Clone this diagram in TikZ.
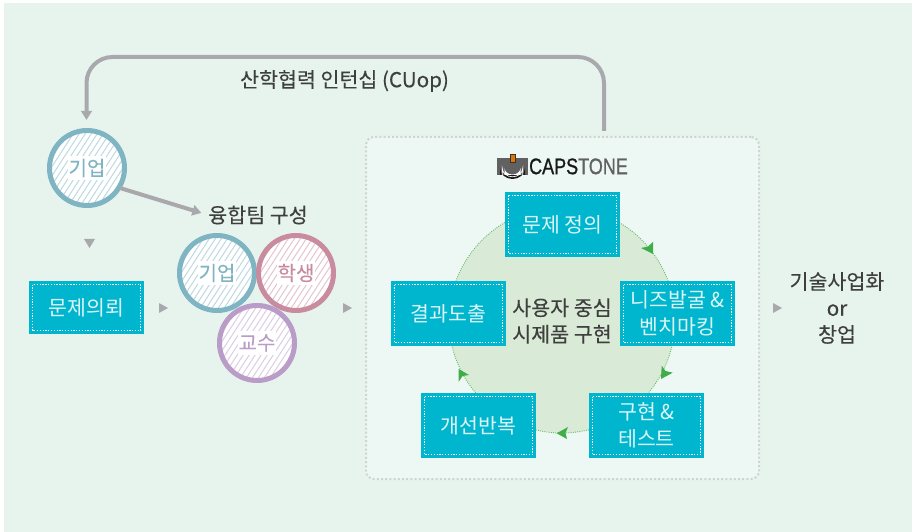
\documentclass[tikz,border=0pt]{standalone}
\usepackage{fontspec}
\setmainfont{Noto Sans CJK KR}
\newfontfamily\headfont{Noto Sans CJK KR}[FakeBold=0.2]
\newfontfamily\logofont{Liberation Sans}[FakeBold=1]
\usetikzlibrary{arrows.meta}
\definecolor{bgmint}{HTML}{E7F4ED}
\definecolor{panelfill}{HTML}{EDF7F4}
\definecolor{paneldot}{HTML}{D0D3D2}
\definecolor{boxcyan}{HTML}{00B6CF}
\definecolor{boxtext}{HTML}{DDF6F8}
\definecolor{linegray}{HTML}{A9A9AD}
\definecolor{inktext}{HTML}{3F3F3F}
\definecolor{ringteal}{HTML}{7FB5C2}
\definecolor{ringpink}{HTML}{C98BA0}
\definecolor{ringpurple}{HTML}{B99CC8}
\definecolor{discfill}{HTML}{D9EAD7}
\definecolor{discdot}{HTML}{62BC62}
\definecolor{headgreen}{HTML}{3FAE49}
\tikzset{
  stagebox/.style={rectangle,fill=boxcyan,text=boxtext,minimum width=115pt,minimum height=#1,
    inner sep=0pt,align=center,font=\fontsize{20.5pt}{27pt}\selectfont,
    path picture={\draw[white,line width=1.3pt,dash pattern=on 1.3pt off 1.5pt]
      ([shift={(3.5,3.5)}]path picture bounding box.north west) rectangle
      ([shift={(-3.5,-3.5)}]path picture bounding box.south east);}},
  ring/.style={circle,draw=#1,line width=5pt,fill=white,minimum size=75pt,inner sep=0pt,text=#1,
    font=\headfont\fontsize{20pt}{22pt}\selectfont,
    path picture={
      \foreach \d in {-72,-66,...,72}
        \draw[#1!50!white,line width=1pt]
          ([shift={(\d-26,40)}]path picture bounding box.center) --
          ([shift={(\d+26,-40)}]path picture bounding box.center);
      \fill[white] ([shift={(-19,-12)}]path picture bounding box.center) rectangle
          ([shift={(19,12)}]path picture bounding box.center);}},
  heading/.style={text=inktext,align=center,inner sep=0pt,font=\headfont\fontsize{20.6pt}{26.5pt}\selectfont},
  flowline/.style={linegray,line width=4pt,-{Triangle[length=9pt,width=10.5pt]}},
  marker/.style={fill=linegray},
  headmark/.style={fill=headgreen},
}
\begin{document}
\begin{tikzpicture}[x=1pt,y=-1pt]
\useasboundingbox (0,0) rectangle (914,532);
\fill[white] (0,0) rectangle (914,532);
\fill[bgmint] (4,3) rectangle (912,532);

% process panel and cycle disc
\node[draw=paneldot,fill=panelfill,line width=2pt,dash pattern=on 2pt off 2.2pt,rounded corners=8pt,
  minimum width=393pt,minimum height=342pt,inner sep=0pt] (panel) at (562.5,308) {};
\node[circle,fill=discfill,draw=discdot,line width=.9pt,dash pattern=on .9pt off 1.3pt,
  minimum size=226pt,inner sep=0pt] (disc) at (562,320) {};

% logo
\fill[black!62] (497,158) rectangle (528,175);
\fill[black!90] (500,175) -- (500,168) arc[start angle=180,end angle=0,x radius=12.5,y radius=11] -- (525,175) -- cycle;
\fill[white!70!panelfill] (504.5,175) -- (504.5,168) arc[start angle=180,end angle=0,x radius=8,y radius=6.5] -- (520.5,175) -- cycle;
\draw[white,line width=.7pt] (502.2,175) -- (502.2,168) arc[start angle=180,end angle=0,x radius=10.3,y radius=8.8] -- (522.8,175);
\fill[orange!90!black] (510.5,154) rectangle (515,162);
\draw[black!80,line width=.6pt] (510.5,154) rectangle (515,162);
\node[inner sep=0pt,anchor=west,xscale=.8] (logo) at (529,166.4)
  {\logofont\fontsize{22.5pt}{24pt}\selectfont\textcolor{black!90}{CAPS}\textcolor{black!62}{TONE}};

% boxes
\node[stagebox=53pt] (request) at (86.5,307.5) {문제의뢰};
\node[stagebox=65pt] (define) at (562.5,224.5) {문제 정의};
\node[stagebox=65pt] (needs) at (677.5,313.5) {니즈발굴 \&\\벤치마킹};
\node[stagebox=65pt] (result) at (448.5,313.5) {결과도출};
\node[stagebox=65pt] (improve) at (478.5,425.5) {개선반복};
\node[stagebox=65pt] (build) at (646.5,425.5) {구현 \&\\테스트};

% circles
\node[ring=ringteal] (firm) at (87,168) {기업};
\node[ring=ringteal] (teamfirm) at (217,273) {기업};
\node[ring=ringpink] (student) at (296,273) {학생};
\node[ring=ringpurple] (professor) at (257,343) {교수};

% labels
\node[heading] (cuop) at (344.5,81) {산학협력 인턴십 (CUop)};
\node[heading] (team) at (258,215) {융합팀 구성};
\node[heading] (center) at (562,321) {사용자 중심\\시제품 구현};
\node[heading] (outcome) at (837,308) {기술사업화\\or\\창업};

% connectors
\coordinate (loopstart) at (604,131);
\draw[flowline,rounded corners=26pt,shorten >=8pt] (loopstart) -- (604,57) -- (86.5,57) -- (firm.north -| 86.5,0);
\draw[flowline,shorten >=7pt] (firm) ++(33,20) -- (team.west);

% small grey markers
\fill[marker] (84,239) -- (95,239) -- (89.5,248) -- cycle;
\fill[marker] (159,303) -- (168,308) -- (159,313) -- cycle;
\fill[marker] (343,303) -- (352,308) -- (343,313) -- cycle;
\fill[marker] (773,303) -- (782,308) -- (773,313) -- cycle;

% green arrowheads
\fill[headmark] (653,254) -- (641,248) -- (648,246.5) -- (653,242) -- cycle;
\fill[headmark] (661,379) -- (661.7,365.7) -- (665.5,371) -- (672.7,372.7) -- cycle;
\fill[headmark] (556.7,433.3) -- (568,427) -- (565.5,433) -- (567,439) -- cycle;
\fill[headmark] (458.7,369) -- (469,375) -- (462.5,376) -- (458.7,381.7) -- cycle;
\end{tikzpicture}
\end{document}
